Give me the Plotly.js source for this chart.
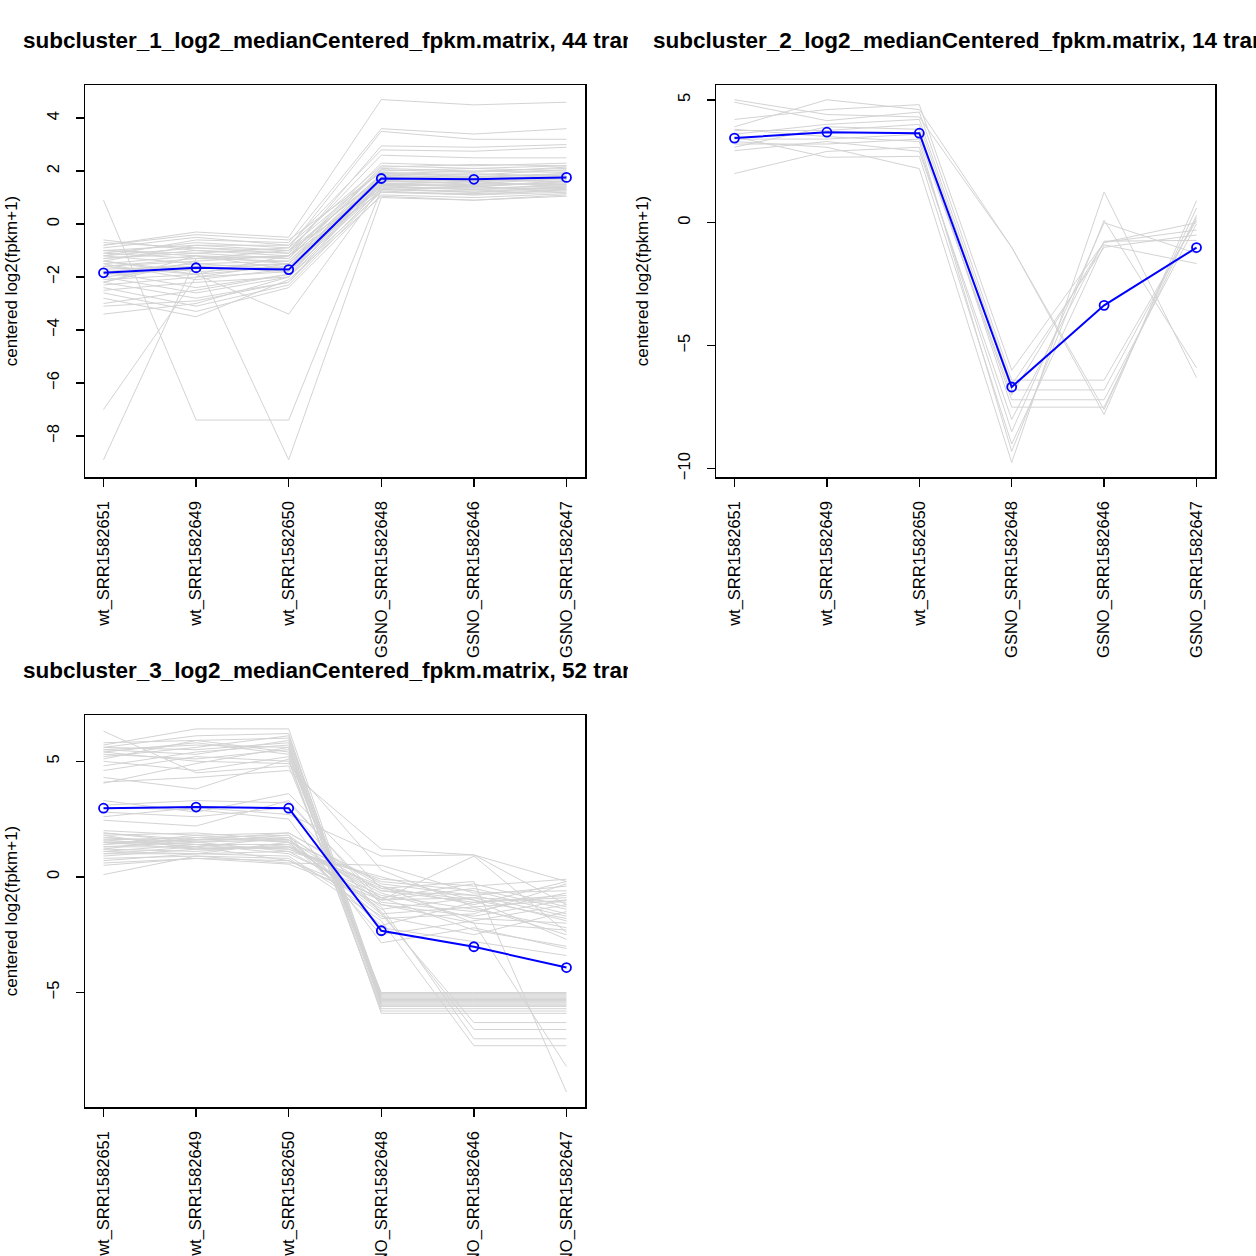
<!DOCTYPE html>
<html>
<head>
<meta charset="utf-8">
<script src="https://cdn.plot.ly/plotly-3.0.1.min.js"></script>
<style>
  body { margin: 0; background: #fff; width: 1256px; height: 1256px; overflow: hidden; position: relative; }
  .panel { position: absolute; }
</style>
</head>
<body>
<div id="p1" class="panel" style="left:0;top:0;width:628px;height:700px"></div>
<div id="p2" class="panel" style="left:628px;top:0;width:628px;height:700px"></div>
<div id="p3" class="panel" style="left:0;top:628px;width:628px;height:628px"></div>
<script>
// sample columns, same order in every panel
var samples = ['wt_SRR1582651', 'wt_SRR1582649', 'wt_SRR1582650',
               'GSNO_SRR1582648', 'GSNO_SRR1582646', 'GSNO_SRR1582647'];

// subcluster 1 : 44 transcripts
var sub1_title = 'subcluster_1_log2_medianCentered_fpkm.matrix, 44 trans';
var sub1_lines = [
  [0.9, -7.4, -7.4, 1.3, 1.2, 1.4],
  [-7.0, -2.0, -1.5, 1.5, 1.4, 1.6],
  [-8.9, -1.3, -1.2, 1.2, 1.1, 1.3],
  [-2.2, -1.4, -8.9, 1.0, 0.9, 1.1],
  [-1.6, -1.9, -3.4, 1.4, 1.3, 1.5],
  [-0.8, -0.3, -0.5, 4.7, 4.5, 4.6],
  [-1.2, -0.6, -0.7, 3.6, 3.4, 3.6],
  [-1.0, -1.1, -0.9, 3.5, 3.2, 3.2],
  [-0.7, -0.9, -1.1, 2.95, 2.9, 3.0],
  [-1.4, -0.8, -0.8, 2.8, 2.75, 2.9],
  [-1.1, -1.3, -1.0, 2.6, 2.5, 2.5],
  [-0.6, -1.0, -1.2, 2.3, 2.2, 2.3],
  [-0.9, -0.5, -0.8, 2.2, 2.1, 2.2],
  [-1.0, -1.2, -1.3, 2.1, 2.0, 2.1],
  [-1.1, -0.7, -0.9, 2.0, 2.1, 2.0],
  [-1.2, -1.5, -1.4, 1.9, 1.8, 1.9],
  [-1.3, -1.0, -1.1, 1.85, 1.9, 1.8],
  [-1.4, -1.8, -1.6, 1.8, 1.7, 1.85],
  [-1.5, -1.2, -1.5, 1.75, 1.6, 1.7],
  [-1.5, -2.1, -1.7, 1.7, 1.75, 1.6],
  [-1.6, -1.4, -1.2, 1.65, 1.5, 1.75],
  [-1.7, -1.6, -1.8, 1.6, 1.55, 1.5],
  [-1.8, -2.4, -1.9, 1.55, 1.4, 1.65],
  [-1.9, -1.7, -1.5, 1.5, 1.45, 1.55],
  [-2.0, -2.6, -2.0, 1.45, 1.3, 1.4],
  [-2.1, -1.9, -1.6, 1.4, 1.35, 1.45],
  [-2.2, -2.8, -2.2, 1.35, 1.2, 1.3],
  [-2.3, -2.0, -1.8, 1.3, 1.25, 1.35],
  [-2.4, -3.1, -2.3, 1.25, 1.1, 1.2],
  [-2.5, -2.2, -2.0, 1.2, 1.15, 1.25],
  [-2.6, -3.3, -2.4, 1.1, 1.0, 1.15],
  [-2.8, -3.5, -2.1, 1.05, 0.9, 1.05],
  [-3.0, -2.5, -1.9, 1.5, 1.6, 1.4],
  [-3.1, -2.9, -2.2, 1.65, 1.7, 1.8],
  [-3.4, -3.0, -2.0, 1.9, 2.0, 1.95],
  [-0.8, -0.4, -0.6, 1.95, 1.85, 2.05],
  [-1.0, -0.8, -1.0, 1.75, 1.8, 1.7],
  [-1.3, -1.1, -1.3, 2.05, 1.95, 2.15],
  [-1.6, -1.3, -1.4, 1.6, 1.65, 1.6],
  [-1.8, -1.5, -1.7, 1.45, 1.5, 1.5],
  [-1.2, -0.9, -1.0, 1.3, 1.4, 1.3],
  [-2.0, -1.6, -1.5, 1.85, 1.75, 1.9],
  [-1.4, -1.9, -1.2, 2.15, 2.25, 2.2],
  [-2.2, -1.2, -1.7, 1.7, 1.6, 1.8]
];
var sub1_mean = [-1.84, -1.65, -1.72, 1.72, 1.69, 1.76];
var sub1_yticks = [-8, -6, -4, -2, 0, 2, 4];

// subcluster 2 : 14 transcripts
var sub2_title = 'subcluster_2_log2_medianCentered_fpkm.matrix, 14 trans';
var sub2_lines = [
  [5.0, 4.4, 4.3, -1.0, -7.8, 0.9],
  [3.9, 5.0, 4.6, -1.0, -7.6, 0.6],
  [4.2, 4.6, 4.8, -6.0, -0.8, -0.3],
  [4.9, 4.15, 4.5, -6.4, -6.4, 0.1],
  [3.75, 3.75, 4.0, -6.8, -6.8, 0.2],
  [3.4, 3.4, 3.6, -7.2, -7.2, -0.05],
  [3.07, 3.9, 3.8, -7.5, -7.5, 0.3],
  [2.93, 3.3, 2.9, -8.0, -0.75, -0.72],
  [2.0, 2.9, 3.07, -8.5, 0.0, -1.25],
  [3.5, 2.66, 2.7, -9.0, -0.9, -1.66],
  [3.3, 3.07, 2.2, -9.75, 1.25, -6.3],
  [3.8, 3.5, 3.3, -9.3, 0.1, -5.9],
  [3.6, 4.0, 4.2, -6.6, -1.0, -0.5],
  [3.2, 3.2, 3.4, -7.0, -0.8, 0.0]
];
var sub2_mean = [3.44, 3.68, 3.64, -6.68, -3.36, -1.01];
var sub2_yticks = [-10, -5, 0, 5];

// subcluster 3 : 52 transcripts
var sub3_title = 'subcluster_3_log2_medianCentered_fpkm.matrix, 52 trans';
var sub3_lines = [
  [6.3, 4.5, 4.8, -5.0, -5.0, -5.0],
  [5.8, 5.9, 6.0, -5.1, -5.1, -5.1],
  [5.7, 6.4, 6.4, -5.2, -5.2, -5.2],
  [5.6, 5.5, 5.8, -5.3, -5.3, -5.3],
  [5.5, 5.7, 5.6, -5.15, -5.15, -5.15],
  [5.5, 5.3, 5.9, -5.4, -5.4, -5.4],
  [5.4, 5.8, 5.3, -5.25, -5.25, -5.25],
  [5.3, 5.1, 5.5, -5.5, -5.5, -5.5],
  [5.2, 5.6, 6.1, -5.35, -5.35, -5.35],
  [5.1, 5.9, 5.4, -5.6, -5.6, -5.6],
  [5.0, 4.6, 5.2, -5.05, -5.05, -5.05],
  [4.8, 5.4, 5.7, -5.45, -5.45, -5.45],
  [4.6, 5.2, 5.0, -5.7, -5.7, -5.7],
  [4.3, 3.8, 5.1, -5.8, -5.8, -5.8],
  [4.05, 4.9, 5.6, -5.9, -5.9, -5.9],
  [5.6, 6.1, 6.2, -5.55, -5.55, -5.55],
  [4.1, 4.3, 4.6, 1.2, 0.95, -0.2],
  [5.4, 5.0, 4.9, 0.3, -1.3, -1.0],
  [3.3, 2.8, 3.6, -0.5, -1.0, -1.8],
  [3.1, 3.3, 3.2, -1.0, 0.9, -2.4],
  [2.8, 2.6, 3.0, -1.6, -6.3, -6.3],
  [2.6, 3.0, 2.7, 0.9, 0.95, -1.2],
  [2.45, 2.2, 3.3, -1.2, -2.0, -8.2],
  [3.0, 2.9, 2.5, -2.85, -2.2, -3.1],
  [2.0, 1.8, 1.9, -0.3, -0.8, -0.4],
  [1.9, 1.6, 1.7, -0.6, -1.1, -0.9],
  [1.8, 1.9, 1.6, -0.9, -0.3, -1.3],
  [1.7, 1.5, 1.8, -1.1, -1.5, -0.7],
  [1.6, 1.7, 1.5, -0.2, -0.6, -1.6],
  [1.5, 1.4, 1.4, -1.4, -0.9, -1.1],
  [1.5, 1.2, 1.3, -0.7, -1.8, -2.0],
  [1.4, 1.6, 1.6, -1.5, -6.6, -6.6],
  [1.3, 1.3, 1.2, -0.4, -1.2, -0.2],
  [1.3, 1.5, 1.1, -1.0, -0.5, -1.4],
  [1.2, 1.1, 1.4, -1.3, -7.0, -7.0],
  [1.1, 1.4, 1.0, -0.8, -1.4, -2.2],
  [1.0, 1.0, 0.9, -1.7, -2.5, -1.5],
  [0.9, 1.2, 1.3, -0.5, -0.2, -9.3],
  [0.8, 0.9, 0.8, -1.9, -7.3, -7.3],
  [0.7, 1.0, 1.1, 0.0, -1.0, -2.7],
  [0.5, 0.8, 0.7, -1.2, -1.7, -1.0],
  [0.1, 0.9, 0.6, 0.5, -0.7, -0.6],
  [1.6, 1.3, 1.7, -2.2, -2.8, -3.4],
  [1.4, 1.8, 1.5, -1.6, -1.3, -2.5],
  [1.7, 1.4, 1.2, -0.1, -0.4, -0.1],
  [1.2, 1.7, 1.8, -2.5, -1.9, -1.2],
  [1.0, 1.3, 0.7, -0.9, -2.3, -3.0],
  [1.9, 1.5, 1.6, -1.8, -1.6, -0.3],
  [0.6, 0.8, 0.55, -1.0, -0.9, -1.9],
  [1.5, 1.6, 1.9, -0.4, -2.0, -2.3],
  [1.1, 1.0, 1.5, -2.1, -1.1, -0.8],
  [1.8, 1.2, 1.3, -0.6, -0.8, -1.7]
];
var sub3_mean = [2.97, 3.02, 2.97, -2.33, -3.02, -3.92];
var sub3_yticks = [-5, 0, 5];

var FONT = 'Liberation Sans, Arial, Helvetica, sans-serif';
var xpos = [1, 2, 3, 4, 5, 6];

function drawPanel(divId, title, lines, meanVals, yticks, yrange, margin, bg) {
  var data = [];
  for (var i = 0; i < lines.length; i++) {
    data.push({
      x: xpos, y: lines[i], type: 'scatter', mode: 'lines',
      line: {color: '#d3d3d3', width: 1}, hoverinfo: 'skip'
    });
  }
  data.push({
    x: xpos, y: meanVals, type: 'scatter', mode: 'lines+markers',
    line: {color: '#0000ff', width: 2},
    marker: {symbol: 'circle-open', size: 9, color: '#0000ff', line: {width: 1.8, color: '#0000ff'}}
  });

  var layout = {
    width: 628, height: margin.h,
    margin: {l: margin.l, r: margin.r, t: margin.t, b: margin.b, pad: 0},
    showlegend: false,
    paper_bgcolor: bg, plot_bgcolor: '#ffffff',
    font: {family: FONT, size: 17, color: '#000'},
    xaxis: {
      range: [0.8, 6.2], tickmode: 'array', tickvals: xpos, ticktext: samples,
      tickangle: -90, ticks: 'outside', ticklen: 8, tickwidth: 1.5, tickcolor: '#000',
      showline: true, mirror: true, linecolor: '#000', linewidth: 1.5,
      showgrid: false, zeroline: false, ticklabelstandoff: 8,
      tickfont: {family: FONT, size: 16.5, color: '#000'}
    },
    yaxis: {
      range: yrange, tickmode: 'array', tickvals: yticks,
      tickangle: -90, ticks: 'outside', ticklen: 8, tickwidth: 1.5, tickcolor: '#000',
      showline: true, mirror: true, linecolor: '#000', linewidth: 1.5,
      showgrid: false, zeroline: false, ticklabelstandoff: 10,
      tickfont: {family: FONT, size: 16.5, color: '#000'},
      title: {text: 'centered log2(fpkm+1)', standoff: 22, font: {family: FONT, size: 17, color: '#000'}}
    },
    annotations: [{
      text: '<b>' + title + '</b>', xref: 'paper', yref: 'paper', x: 0.5, y: 1,
      xanchor: 'center', yanchor: 'middle', yshift: 45, showarrow: false,
      font: {family: FONT, size: 22.5, color: '#000'}
    }]
  };

  Plotly.newPlot(divId, data, layout, {displayModeBar: false, staticPlot: true});
}

drawPanel('p1', sub1_title, sub1_lines, sub1_mean, sub1_yticks, [-9.55, 5.25],
          {l: 85, r: 43, t: 85, b: 223, h: 700}, '#ffffff');
drawPanel('p2', sub2_title, sub2_lines, sub2_mean, sub2_yticks, [-10.34, 5.6],
          {l: 88, r: 41, t: 85, b: 223, h: 700}, '#ffffff');
drawPanel('p3', sub3_title, sub3_lines, sub3_mean, sub3_yticks, [-9.95, 7.0],
          {l: 85, r: 43, t: 87, b: 149, h: 628}, 'rgba(0,0,0,0)');
</script>
</body>
</html>
